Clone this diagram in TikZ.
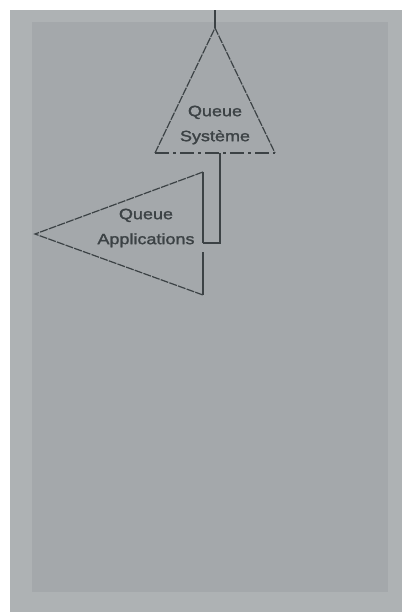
\documentclass[tikz,border=0pt]{standalone}
\usepackage{fontspec}
\setmainfont{Liberation Sans}
\definecolor{panel}{HTML}{A4A8AB}
\definecolor{edge}{HTML}{AEB2B4}
\definecolor{ink}{HTML}{3C4245}
\tikzset{
  tri/.style={draw=ink, line width=1.2pt, line join=miter},
  sideline/.style={draw=ink, line width=1.2pt, dash pattern=on 8pt off 1.2pt},
  baseline dash/.style={draw=ink, line width=1.2pt, dash pattern=on 14pt off 4pt on 3pt off 4pt},
  wire/.style={draw=ink, line width=1.4pt},
  lbl/.style={text=ink, align=center, inner sep=0pt, xscale=1.2,
    font=\fontsize{15}{25}\selectfont},
}
\begin{document}
\begin{tikzpicture}[x=1pt,y=-1pt]
\useasboundingbox (0,0) rectangle (405,615);
\fill[white] (0,0) rectangle (405,615);
\fill[panel] (10,10) rectangle (402,612);
\fill[edge] (10,10) rectangle (32,612);
\fill[edge] (10,10) rectangle (402,22);
\fill[edge] (388,10) rectangle (402,612);
\fill[edge] (10,592) rectangle (402,612);
% Queue Systeme triangle
\coordinate (s-top) at (215,28);
\coordinate (s-bl) at (155,153);
\coordinate (s-br) at (275,153);
\coordinate (s-up) at (215,10);
\coordinate (s-out) at (220,153);
\draw[sideline] (s-bl) -- (s-top) -- (s-br);
\draw[baseline dash] (s-bl) -- (s-br);
\draw[wire] (s-top) -- (s-up);
\node[lbl] (sys) at (215,125) {\addfontfeature{FakeBold=1.5}Queue\\\addfontfeature{FakeBold=1.5}Système};
% Queue Applications triangle
\coordinate (a-tip) at (35,234);
\coordinate (a-tr) at (203,172);
\coordinate (a-br) at (203,295);
\coordinate (a-in) at (203,243);
\coordinate (a-gap) at (203,252);
\draw[sideline] (a-tr) -- (a-tip) -- (a-br);
\draw[tri] (a-tr) -- (a-in);
\draw[tri] (a-gap) -- (a-br);
\node[lbl] (app) at (146,228) {\addfontfeature{FakeBold=1.5}Queue\\\addfontfeature{FakeBold=1.5}Applications};
% connector
\draw[wire] (s-out) |- (a-in);
\end{tikzpicture}
\end{document}
